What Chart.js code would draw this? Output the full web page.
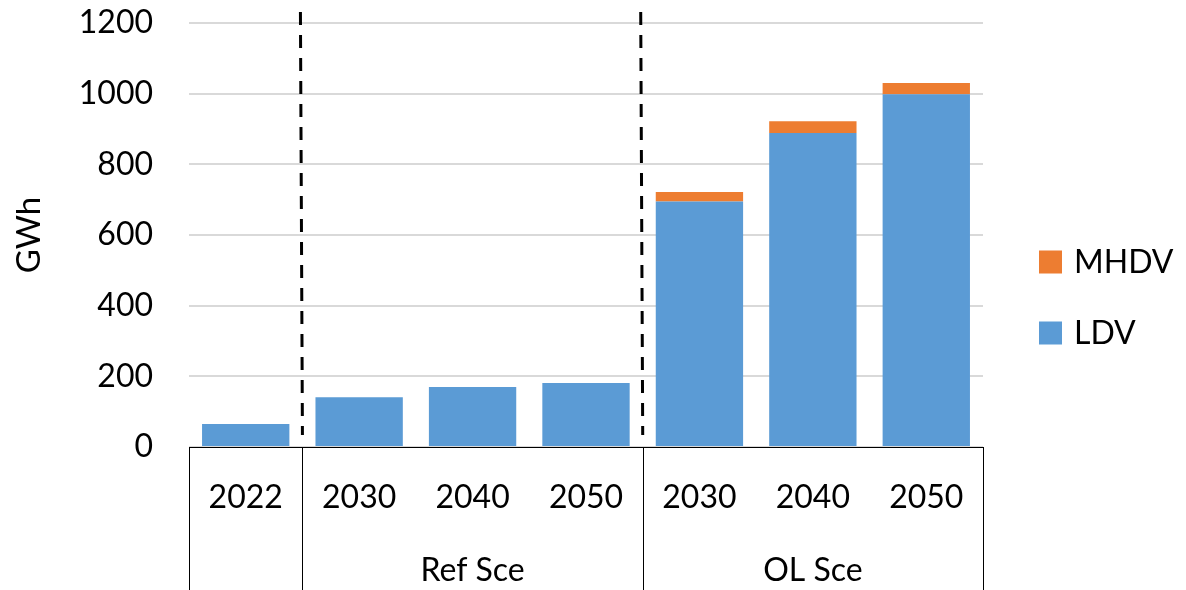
<!DOCTYPE html>
<html>
<head>
<meta charset="utf-8">
<script src="https://cdn.jsdelivr.net/npm/chart.js@4/dist/chart.umd.min.js"></script>
<style>
  html, body { margin: 0; padding: 0; background: #fff; }
  #wrap { width: 1186px; height: 590px; }
</style>
</head>
<body>
<div id="wrap"><canvas id="canvas" width="1186" height="590"></canvas></div>
<script>
// ---------- data ----------
let years = ['2022', '2030', '2040', '2050', '2030', '2040', '2050']
let groups = [
  { label: '', from: 0, to: 0 },
  { label: 'Ref Sce', from: 1, to: 3 },
  { label: 'OL Sce', from: 4, to: 6 }
]
let ldv = [65, 141, 170, 181, 695, 889, 998]
let mhdv = [0, 0, 0, 0, 27, 33, 32]
let yTicks = [0, 200, 400, 600, 800, 1000, 1200]

let FONT = 'Lato, "Open Sans", sans-serif'
let BLUE = '#5B9BD5'
let ORANGE = '#ED7D31'

// ---------- dashed separators, category table under the axis, legend ----------
let extras = {
  id: 'extras',
  afterDraw(chart) {
    let ctx = chart.ctx
    let x = chart.scales.x
    let area = chart.chartArea
    let bottom = chart.height

    let edge = (i) => (x.getPixelForValue(i) + x.getPixelForValue(i + 1)) / 2
    let left = area.left
    let right = area.right

    ctx.save()

    // dashed scenario separators
    ctx.strokeStyle = '#000'
    ctx.lineWidth = 3
    ctx.setLineDash([13, 10])
    groups.slice(1).forEach(g => {
      let px = edge(g.from - 1) - 2
      ctx.beginPath()
      ctx.moveTo(px, 12)
      ctx.lineTo(px + 2, area.bottom - 12)
      ctx.stroke()
    })
    ctx.setLineDash([])

    // table lines
    ctx.lineWidth = 1
    ctx.beginPath()
    ctx.moveTo(left, area.bottom + 0.5)
    ctx.lineTo(right, area.bottom + 0.5)
    let verts = [left]
    groups.slice(1).forEach(g => verts.push(edge(g.from - 1)))
    verts.push(right)
    verts.forEach(v => {
      let vx = Math.round(v) + 0.5
      ctx.moveTo(vx, area.bottom)
      ctx.lineTo(vx, bottom)
    })
    ctx.stroke()

    // year labels and group labels
    ctx.fillStyle = '#000'
    ctx.font = '32px ' + FONT
    ctx.textAlign = 'center'
    ctx.textBaseline = 'middle'
    years.forEach((y, i) => ctx.fillText(y, x.getPixelForValue(i), area.bottom + 51))
    groups.forEach(g => {
      if (!g.label) return
      let cx = (x.getPixelForValue(g.from) + x.getPixelForValue(g.to)) / 2
      ctx.fillText(g.label, cx, area.bottom + 124)
    })

    // legend (MHDV on top)
    let items = chart.data.datasets.slice().reverse()
    ctx.textAlign = 'left'
    items.forEach((ds, i) => {
      let cy = 262 + i * 71
      ctx.fillStyle = ds.backgroundColor
      ctx.fillRect(1039, cy - 11.5, 23, 23)
      ctx.fillStyle = '#000'
      ctx.fillText(ds.label, 1074, cy + 1)
    })

    ctx.restore()
  }
}

let config = {
  type: 'bar',
  data: {
    labels: years,
    datasets: [
      { label: 'LDV', data: ldv, backgroundColor: BLUE, barPercentage: 0.77, categoryPercentage: 1 },
      { label: 'MHDV', data: mhdv, backgroundColor: ORANGE, barPercentage: 0.77, categoryPercentage: 1 }
    ]
  },
  options: {
    responsive: false,
    animation: false,
    layout: { padding: { top: 23, right: 203, left: 0, bottom: 0 } },
    plugins: {
      legend: { display: false },
      tooltip: { enabled: false }
    },
    scales: {
      x: {
        stacked: true,
        grid: { display: false },
        border: { display: false },
        ticks: { display: false },
        afterFit(scale) { scale.height = 143 }
      },
      y: {
        stacked: true,
        min: 0,
        max: 1200,
        afterBuildTicks(scale) { scale.ticks = yTicks.map(v => ({ value: v })) },
        grid: { color: '#D9D9D9', lineWidth: 2, drawTicks: false },
        border: { display: false },
        ticks: {
          color: '#000',
          font: { size: 32, family: FONT },
          padding: 36,
          callback: (v) => String(v)
        },
        title: { display: true, text: 'GWh', color: '#000', font: { size: 33, family: FONT }, padding: { top: 10, bottom: 0 } },
        afterFit(scale) {
          scale.width = 189
          // keep the top gridline where the layout padding puts it
          scale.paddingTop = 0
          scale.paddingBottom = 0
        }
      }
    }
  },
  plugins: [extras]
}

let myChart = new Chart(document.getElementById('canvas').getContext('2d'), config)
</script>
</body>
</html>
